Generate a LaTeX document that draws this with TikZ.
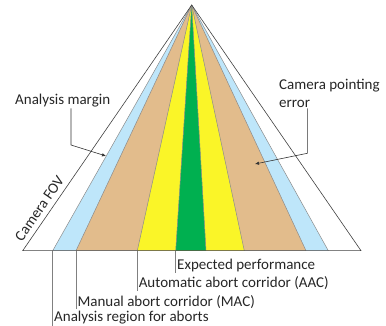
\documentclass[tikz,border=0pt]{standalone}
\usepackage{fontspec}
\setmainfont{Carlito}
\usetikzlibrary{arrows.meta}
\definecolor{marginblue}{RGB}{190,230,250}
\definecolor{corridortan}{RGB}{226,188,140}
\definecolor{aacyellow}{RGB}{250,245,40}
\definecolor{perfgreen}{RGB}{0,176,80}
\tikzset{
  region/.style={draw=gray!90, line width=0.5pt},
  txt/.style={font=\fontsize{15}{18}\selectfont, inner sep=1pt, text=black!85},
  leader/.style={draw=gray, line width=0.5pt},
  pointer/.style={draw=black!80, line width=0.6pt, -{Latex[length=4pt,width=3.5pt]}}
}

\begin{document}
\begin{tikzpicture}[x=1pt,y=-1pt]
    \useasboundingbox (0,0) rectangle (386,326);
    % apex and base points
    \coordinate (apex) at (191.7,5);
    \coordinate (fovL) at (22.7,250.7);
    \coordinate (fovR) at (361,250.7);
    \coordinate (b1) at (52.7,250.7);
    \coordinate (b2) at (76,250.7);
    \coordinate (b3) at (137.3,250.7);
    \coordinate (b4) at (175.7,250.7);
    \coordinate (b5) at (206,250.7);
    \coordinate (b6) at (244.3,250.7);
    \coordinate (b7) at (306,250.7);
    \coordinate (b8) at (328.3,250.7);
    % regions
    \fill[marginblue] (apex) -- (b1) -- (b8) -- cycle;
    \fill[corridortan] (apex) -- (b2) -- (b7) -- cycle;
    \fill[aacyellow] (apex) -- (b3) -- (b6) -- cycle;
    \fill[perfgreen] (apex) -- (b4) -- (b5) -- cycle;
    \foreach \p in {b1,b2,b3,b4,b5,b6,b7,b8}
        \draw[region] (apex) -- (\p);
    \draw[black!75, line width=0.6pt] (apex) -- (fovL) -- (fovR) -- cycle;
    % labels below
    \node[txt, anchor=west] (lexp) at (176,265.7) {Expected performance};
    \node[txt, anchor=west] (laac) at (137.6,283) {Automatic abort corridor (AAC)};
    \node[txt, anchor=west] (lmac) at (76.3,301.7) {Manual abort corridor (MAC)};
    \node[txt, anchor=west] (lana) at (53,318) {Analysis region for aborts};
    \draw[leader] (b4) -- (b4 |- lexp.south);
    \draw[leader] (b3) -- (b3 |- laac.south);
    \draw[leader] (b2) -- (b2 |- lmac.south);
    \draw[leader] (b1) -- (b1 |- lana.south);
    % side labels
    \node[txt, rotate=55.5] (lfov) at (39.5,208.5) {Camera FOV};
    \node[txt, anchor=west] (lmargin) at (14,100.7) {Analysis margin};
    \node[txt, anchor=west, align=left] (lerror) at (278,93) {Camera pointing\\error};
    \coordinate (mbend) at (71,145);
    \coordinate (mtip) at (106,156);
    \draw[pointer] (mbend |- lmargin.south) -- (mbend) -- (mtip);
    \coordinate (ebend) at (307.3,153.3);
    \coordinate (etip) at (255,164);
    \draw[pointer] (ebend |- lerror.south) -- (ebend) -- (etip);
\end{tikzpicture}
\end{document}
